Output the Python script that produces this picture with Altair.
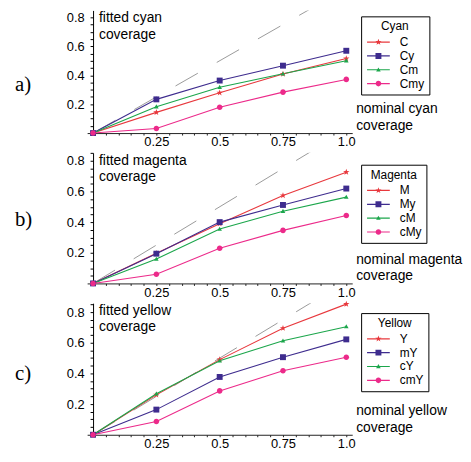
import math
import altair as alt
import pandas as pd

# ---------------- data ----------------
x_nominal = [0.0, 0.25, 0.5, 0.75, 1.0]

cyan_series = ["C", "Cy", "Cm", "Cmy"]
cyan_C = [0.0, 0.143, 0.279, 0.408, 0.515]
cyan_Cy = [0.0, 0.233, 0.363, 0.466, 0.569]
cyan_Cm = [0.0, 0.182, 0.317, 0.410, 0.500]
cyan_Cmy = [0.0, 0.031, 0.179, 0.283, 0.371]

magenta_series = ["M", "My", "cM", "cMy"]
magenta_M = [0.0, 0.197, 0.390, 0.574, 0.726]
magenta_My = [0.0, 0.194, 0.400, 0.512, 0.619]
magenta_cM = [0.0, 0.159, 0.355, 0.471, 0.563]
magenta_cMy = [0.0, 0.060, 0.230, 0.346, 0.443]

yellow_series = ["Y", "mY", "cY", "cmY"]
yellow_Y = [0.0, 0.260, 0.490, 0.695, 0.852]
yellow_mY = [0.0, 0.164, 0.377, 0.506, 0.622]
yellow_cY = [0.0, 0.267, 0.482, 0.613, 0.705]
yellow_cmY = [0.0, 0.086, 0.286, 0.417, 0.506]

diag_x = [0.0, 1.0]
diag_y = [0.0, 1.0]

x_ticks = [round(0.05 * i, 2) for i in range(1, 21)]
y_ticks = [round(0.05 * i, 2) for i in range(1, 18)]

panel_labels = ["a)", "b)", "c)"]
fitted_texts = ["fitted cyan\ncoverage", "fitted magenta\ncoverage", "fitted yellow\ncoverage"]
nominal_texts = ["nominal cyan\ncoverage", "nominal magenta\ncoverage", "nominal yellow\ncoverage"]
legend_titles = ["Cyan", "Magenta", "Yellow"]

# ---------------- styles ----------------
colors = ["#E8383D", "#3E2C8E", "#1BA64B", "#EC2A8A"]
FONT = "Liberation Sans"


def star_path(R, r):
    pts = []
    for k in range(10):
        ang = -math.pi / 2 + k * math.pi / 5
        rad = R if k % 2 == 0 else r
        pts.append(f"{rad * math.cos(ang):.3f},{rad * math.sin(ang):.3f}")
    return "M" + "L".join(pts) + "Z"


def circle_path(r):
    return f"M{-r},0A{r},{r},0,1,1,{r},0A{r},{r},0,1,1,{-r},0Z"


def square_path(h):
    return f"M{-h},{-h}L{h},{-h}L{h},{h}L{-h},{h}Z"


def tri_path(w, t, b):
    return f"M0,{-t}L{w},{b}L{-w},{b}Z"


# markers drawn at size 529 (unit = 11.5 px) both in plot and legend
SYM = 529
marker_paths = [
    star_path(0.29, 0.115),
    square_path(0.26),
    tri_path(0.2, 0.21, 0.15),
    circle_path(0.245),
]

W = 268


def make_axes():
    xaxis = alt.Axis(
        values=x_ticks,
        labelExpr="datum.value == 0.25 ? '0.25' : datum.value == 0.5 ? '0.5' : datum.value == 0.75 ? '0.75' : datum.value == 1 ? '1.0' : ''",
        tickSize=2,
        tickColor="#222222",
        domainColor="#222222",
        labelFont=FONT,
        labelFontSize=13,
        labelColor="black",
        labelPadding=1,
        labelOverlap=False,
        labelFlush=False,
        grid=False,
        title=None,
    )
    yaxis = alt.Axis(
        values=y_ticks,
        labelExpr="abs(datum.value * 5 - round(datum.value * 5)) < 0.01 ? format(datum.value, '.1f') : ''",
        tickSize=3,
        tickColor="black",
        domainColor="black",
        offset=-6,
        labelFont=FONT,
        labelFontSize=13,
        labelColor="black",
        labelPadding=6,
        labelOverlap=False,
        labelFlush=False,
        grid=False,
        title=None,
    )
    return xaxis, yaxis


def panel(series, ys, idx, h, ydom, legend_y, label_y):
    rows = []
    for name, vals in zip(series, ys):
        for xv, yv in zip(x_nominal, vals):
            rows.append({"series": name, "x": xv, "y": yv})
    df = pd.DataFrame(rows)
    diag_df = pd.DataFrame({"x": diag_x, "y": diag_y})

    xscale = alt.Scale(domain=[-0.0234, 1.0234], nice=False, zero=False)
    yscale = alt.Scale(domain=[0, ydom], nice=False, zero=False)
    xaxis, yaxis = make_axes()

    def X():
        return alt.X("x:Q", scale=xscale, axis=xaxis)

    def Y():
        return alt.Y("y:Q", scale=yscale, axis=yaxis)

    common_leg = dict(
        title=legend_titles[idx],
        orient="none",
        legendX=277,
        legendY=legend_y,
        padding=5,
        titleFont=FONT,
        titleFontSize=12,
        titleFontWeight="normal",
        titleColor="black",
        titleAnchor="middle",
        titleAlign="center",
        titlePadding=3,
        labelFont=FONT,
        labelFontSize=12,
        labelColor="black",
        labelOffset=9,
        symbolOffset=0,
        symbolSize=SYM,
        symbolStrokeWidth=1.2,
        clipHeight=12,
        rowPadding=2,
    )
    # line legend (stroke symbols) with the frame
    leg_lines = alt.Legend(
        symbolType="stroke", strokeColor="black", fillColor="white", **common_leg
    )
    # marker legend overlaid exactly on it (its own texts hidden)
    leg_marks = alt.Legend(labelOpacity=0, titleOpacity=0, **common_leg)

    diag = alt.Chart(diag_df).mark_line(
        clip=True, color="#9a9a9a", strokeWidth=1, strokeDash=[26, 22]
    ).encode(x=X(), y=Y())

    lines = alt.Chart(df).mark_line(strokeWidth=1.1).encode(
        x=X(),
        y=Y(),
        color=alt.Color("series:N", scale=alt.Scale(domain=series, range=colors), legend=leg_lines),
    )

    points = alt.Chart(df).transform_calculate(kind="datum.series").mark_point(
        filled=True, size=SYM, opacity=1, strokeWidth=0
    ).encode(
        x=X(),
        y=Y(),
        color=alt.Color("kind:N", scale=alt.Scale(domain=series, range=colors), legend=leg_marks),
        shape=alt.Shape("kind:N", scale=alt.Scale(domain=series, range=marker_paths), legend=leg_marks),
    )

    fitted = alt.Chart(pd.DataFrame({"t": [fitted_texts[idx]]})).mark_text(
        align="left", baseline="top", font=FONT, fontSize=14, color="black",
        lineBreak="\n", lineHeight=16.5,
    ).encode(x=alt.value(12), y=alt.value(1), text="t:N")

    nominal = alt.Chart(pd.DataFrame({"t": [nominal_texts[idx]]})).mark_text(
        align="left", baseline="top", font=FONT, fontSize=14, color="black",
        lineBreak="\n", lineHeight=17,
    ).encode(x=alt.value(272), y=alt.value(h - 31), text="t:N")

    plabel = alt.Chart(pd.DataFrame({"t": [panel_labels[idx]]})).mark_text(
        align="left", baseline="middle", font="Liberation Serif", fontSize=21, color="black",
    ).encode(x=alt.value(-73), y=alt.value(label_y), text="t:N")

    return alt.layer(diag, lines, points, fitted, nominal, plabel).resolve_scale(
        color="independent", shape="independent"
    ).properties(width=W, height=h)


pa = panel(cyan_series, [cyan_C, cyan_Cy, cyan_Cm, cyan_Cmy], 0, 124, 0.848, 6, 75)
pb = panel(magenta_series, [magenta_M, magenta_My, magenta_cM, magenta_cMy], 1, 132, 0.852, 12, 68)
pc = panel(yellow_series, [yellow_Y, yellow_mY, yellow_cY, yellow_cmY], 2, 133, 0.858, 10, 72)

chart = alt.vconcat(pa, pb, pc, spacing=20, bounds="flush").resolve_scale(
    x="independent", y="independent", color="independent", shape="independent"
).properties(
    padding={"left": 7, "top": 0, "right": 0, "bottom": 0}
).configure_view(stroke=None)

chart.save("out.html", embed_options={"renderer": "svg", "actions": False})
